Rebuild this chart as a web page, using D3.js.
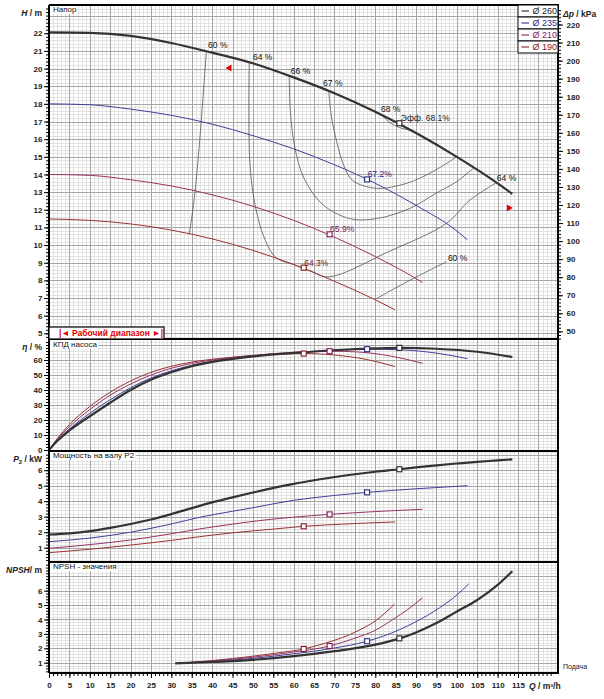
<!DOCTYPE html>
<html>
<head>
<meta charset="utf-8">
<script src="https://cdn.jsdelivr.net/npm/d3@7"></script>
<style>
  body { margin: 0; background: #fff; }
  text { font-family: "Liberation Sans", Arial, sans-serif; }
</style>
</head>
<body>
<div id="chart"></div>
<script>
// Pump curves, values, [Q m3/h, value]
var diameters = ["Ø 260", "Ø 235", "Ø 210", "Ø 190"];

var head260 = [[0,22.05],[10,22.02],[20,21.85],[30,21.45],[40,20.9],[50,20.3],[60,19.5],[70,18.6],[80,17.55],[90,16.35],[100,15.0],[110,13.5],[113.6,12.9]];
var head235 = [[0,18.0],[10,17.95],[20,17.7],[30,17.35],[40,16.85],[50,16.2],[60,15.45],[70,14.55],[80,13.5],[90,12.25],[100,10.8],[102.6,10.3]];
var head210 = [[0,14.0],[10,13.95],[20,13.7],[30,13.35],[40,12.85],[50,12.2],[60,11.4],[70,10.45],[80,9.35],[90,8.1],[91.6,7.87]];
var head190 = [[0,11.48],[10,11.4],[20,11.2],[30,10.85],[40,10.35],[50,9.7],[60,8.9],[70,7.95],[80,6.9],[84.85,6.33]];

var eff260 = [[0,0],[2,6],[5,13],[10,22.5],[15,31.5],[20,40],[25,46.8],[30,51.8],[35,55.8],[40,58.7],[50,62.4],[60,64.7],[70,66.5],[80,67.7],[86,68.1],[95,67.5],[105,65.5],[113.6,62]];
var eff235 = [[0,0],[2,6.5],[5,14],[10,24.5],[15,33.5],[20,41.5],[25,48],[30,52.8],[35,56.5],[40,59.2],[50,62.6],[60,64.9],[70,66.5],[78,67.2],[86,66.8],[95,64.6],[102.6,60.9]];
var eff210 = [[0,0],[2,7],[5,15.5],[10,27],[15,36.5],[20,44],[25,50],[30,54.5],[35,57.7],[40,60],[50,63.1],[60,65.1],[68.8,65.9],[76,65.3],[84,62.5],[91.6,57.8]];
var eff190 = [[0,0],[2,7.5],[5,17],[10,29],[15,38.5],[20,46],[25,51.8],[30,55.8],[35,58.6],[40,60.5],[50,62.9],[57,63.9],[62.45,64.3],[70,63.3],[78,60.3],[84.85,55.6]];

var pow260 = [[0,1.85],[5,1.93],[10,2.07],[15,2.28],[20,2.53],[25,2.82],[30,3.17],[35,3.55],[40,3.92],[45,4.25],[50,4.56],[55,4.86],[60,5.12],[65,5.35],[70,5.56],[75,5.74],[80,5.9],[86,6.06],[90,6.18],[95,6.31],[100,6.43],[105,6.54],[110,6.63],[113.6,6.7]];
var pow235 = [[0,1.39],[10,1.62],[20,2.0],[30,2.53],[36.9,2.96],[45,3.35],[50,3.58],[60,4.06],[70,4.37],[78,4.57],[90,4.8],[102.6,5.0]];
var pow210 = [[0,0.96],[10,1.2],[20,1.5],[30,1.9],[36.9,2.21],[45,2.52],[53,2.79],[60,2.97],[68.8,3.15],[80,3.33],[91.6,3.48]];
var pow190 = [[0,0.68],[10,0.9],[20,1.17],[30,1.47],[36.9,1.71],[45,1.96],[55,2.2],[62.45,2.38],[72,2.52],[84.85,2.66]];

var npsh260 = [[31,0.95],[40,1.05],[50,1.2],[60,1.45],[70,1.8],[80,2.25],[86,2.69],[90,3.1],[95,3.75],[100,4.55],[105,5.35],[110,6.4],[113.6,7.35]];
var npsh235 = [[31,0.95],[40,1.08],[50,1.3],[60,1.62],[70,2.02],[78,2.49],[86,3.3],[90,3.85],[95.7,4.8],[100,5.7],[102.9,6.47]];
var npsh210 = [[31,0.95],[40,1.12],[50,1.38],[60,1.74],[68.8,2.16],[75,2.7],[80,3.25],[84.3,4.0],[88,4.7],[91.6,5.51]];
var npsh190 = [[31,0.95],[40,1.15],[50,1.45],[56,1.68],[62.45,1.95],[68,2.38],[72,2.75],[76,3.25],[80,3.9],[84.7,5.06]];

// best efficiency points
var bepQ    = [85.9, 78, 68.8, 62.45];
var bepH    = [16.9, 13.72, 10.61, 8.72];
var bepEff  = [68.1, 67.2, 65.9, 64.3];
var bepPow  = [6.06, 4.57, 3.15, 2.38];
var bepNpsh = [2.69, 2.49, 2.16, 1.95];

// iso-efficiency lines [Q, H]
var iso60a = [[38.6,21.0],[37.8,18.5],[36.8,15.5],[35.6,12.6],[34.4,10.6]];
var iso60b = [[80,6.93],[88,7.95],[97.5,9.06]];
var iso64  = [[49.1,20.35],[49,17.5],[49.3,14.5],[50.5,12.3],[52.8,10.4],[55.7,9.28],[60,8.9],[64,8.55],[68.5,8.2],[83,9.6],[97.5,11.24],[103.2,12.55],[109.8,13.55]];
var iso66  = [[58.9,19.55],[59.2,17.5],[60.3,15.5],[62.5,13.8],[67.2,12.28],[73.8,11.5],[80.3,11.5],[88.5,12.08],[95,12.95],[100,13.6],[104,14.35]];
var iso67  = [[68.6,18.68],[69.3,17.2],[70.6,15.8],[72.3,14.5],[74.5,13.65],[80.3,13.22],[87.7,13.5],[94,14.15],[100,15.0]];
var iso68  = [[81.4,17.4],[83.5,16.95],[86,16.65],[88.5,16.5],[90.8,16.25]];
var isoLines = [iso60a, iso60b, iso64, iso66, iso67, iso68];
var isoLabels = [[39,21.34,"60 %"],[50,20.66,"64 %"],[59.3,19.86,"66 %"],[67.2,19.18,"67 %"],[81.4,17.72,"68 %"],[109.8,13.8,"64 %"],[97.8,9.27,"60 %"]];

// working range on the Ø 260 curve
var workQ = [44, 113.6];

var xTicks = d3.range(0, 120, 5);

var colors = ["#333333", "#40409a", "#993366", "#993333"];
var textColors = ["#222222", "#2a2a88", "#86185a", "#861818"];

// layout
var svgWidth = 604, svgHeight = 699;
var xL = 49, xR = 558;
var x = d3.scaleLinear().domain([0, 124.8]).range([xL, xR]);

var yH   = d3.scaleLinear().domain([4.68, 23.6]).range([339, 5]);
var yDp  = d3.scaleLinear().domain([4.68 * 9.78, 23.6 * 9.78]).range([339, 5]);
var yEff = d3.scaleLinear().domain([-0.33, 74]).range([450.5, 339]);
var yPow = d3.scaleLinear().domain([0.097, 7.27]).range([561.7, 450.5]);
var yNp  = d3.scaleLinear().domain([0.264, 8.01]).range([673.3, 561.7]);

var panels = [
  {y: yH,   top: 5,     bottom: 339,   minor: 0.2, major: 1},
  {y: yEff, top: 339,   bottom: 450.5, minor: 2,   major: 10},
  {y: yPow, top: 450.5, bottom: 561.7, minor: 0.2, major: 1},
  {y: yNp,  top: 561.7, bottom: 673.3, minor: 0.2, major: 1}
];

var svg = d3.select("#chart").append("svg")
  .attr("width", svgWidth)
  .attr("height", svgHeight);

function px(v) { return Math.round(v) + 0.5; }

// grid
panels.forEach(function(p) {
  var g = svg.append("g").attr("shape-rendering", "crispEdges");
  var dom = p.y.domain();
  var hMinor = d3.range(Math.ceil(dom[0] / p.minor) * p.minor, dom[1], p.minor)
    .filter(function(v) { return Math.abs(v / p.major - Math.round(v / p.major)) > 1e-6; });
  var hMajor = d3.range(Math.ceil(dom[0] / p.major) * p.major, dom[1], p.major);
  var vMinor = d3.range(1, 125, 1).filter(function(v) { return v % 5 != 0; });
  var vMajor = d3.range(5, 125, 5);

  g.selectAll(null).data(hMinor).enter().append("line")
    .attr("x1", xL).attr("x2", xR)
    .attr("y1", function(d) { return px(p.y(d)); })
    .attr("y2", function(d) { return px(p.y(d)); })
    .attr("stroke", "#e2e2e2");
  g.selectAll(null).data(vMinor).enter().append("line")
    .attr("y1", p.top).attr("y2", p.bottom)
    .attr("x1", function(d) { return px(x(d)); })
    .attr("x2", function(d) { return px(x(d)); })
    .attr("stroke", "#e2e2e2");
  g.selectAll(null).data(hMajor).enter().append("line")
    .attr("x1", xL).attr("x2", xR)
    .attr("y1", function(d) { return px(p.y(d)); })
    .attr("y2", function(d) { return px(p.y(d)); })
    .attr("stroke", "#a6a6a6");
  g.selectAll(null).data(vMajor).enter().append("line")
    .attr("y1", p.top).attr("y2", p.bottom)
    .attr("x1", function(d) { return px(x(d)); })
    .attr("x2", function(d) { return px(x(d)); })
    .attr("stroke", "#a6a6a6");
});

// iso efficiency lines
var isoLine = d3.line().x(function(d) { return x(d[0]); }).y(function(d) { return yH(d[1]); })
  .curve(d3.curveCatmullRom);
isoLines.forEach(function(l) {
  svg.append("path").datum(l).attr("d", isoLine)
    .attr("fill", "none").attr("stroke", "#555").attr("stroke-width", 0.8);
});
svg.selectAll(null).data(isoLabels).enter().append("text")
  .attr("x", function(d) { return x(d[0]); })
  .attr("y", function(d) { return yH(d[1]); })
  .attr("dy", "0.35em")
  .attr("font-size", 8.5)
  .attr("fill", "#111")
  .text(function(d) { return d[2]; });

// performance curves
function drawSet(sets, yScale) {
  var line = d3.line().x(function(d) { return x(d[0]); }).y(function(d) { return yScale(d[1]); })
    .curve(d3.curveMonotoneX);
  // smallest first so the big impeller sits on top
  for (var i = sets.length - 1; i >= 0; i--) {
    svg.append("path").datum(sets[i]).attr("d", line)
      .attr("fill", "none")
      .attr("stroke", colors[i])
      .attr("stroke-width", i == 0 ? 2.2 : 1);
  }
}
drawSet([head260, head235, head210, head190], yH);
drawSet([eff260, eff235, eff210, eff190], yEff);
drawSet([pow260, pow235, pow210, pow190], yPow);
drawSet([npsh260, npsh235, npsh210, npsh190], yNp);

// BEP markers
function markers(vals, yScale) {
  svg.selectAll(null).data(vals).enter().append("rect")
    .attr("x", function(d, i) { return x(bepQ[i]) - 2.5; })
    .attr("y", function(d) { return yScale(d) - 2.5; })
    .attr("width", 5).attr("height", 5)
    .attr("fill", "#fff")
    .attr("stroke", function(d, i) { return i == 0 ? "#222" : textColors[i]; })
    .attr("stroke-width", 1.1);
}
markers(bepH, yH);
markers(bepEff, yEff);
markers(bepPow, yPow);
markers(bepNpsh, yNp);

svg.selectAll(null).data(bepEff).enter().append("text")
  .attr("x", function(d, i) { return x(bepQ[i]) + (i == 0 ? 1.5 : 0.5); })
  .attr("y", function(d, i) { return yH(bepH[i]) - 5; })
  .attr("dy", "0.35em")
  .attr("font-size", 8.5)
  .attr("fill", function(d, i) { return textColors[i]; })
  .text(function(d, i) { return (i == 0 ? "Эфф.  " : "") + d.toFixed(1) + "%"; });

// working range triangles on the Ø 260 curve
var headAt = d3.scaleLinear().domain(head260.map(function(d) { return d[0]; })).range(head260.map(function(d) { return d[1]; }));
svg.append("path")
  .attr("d", "M" + (x(workQ[0]) - 3) + "," + (yH(headAt(workQ[0])) + 11) + " l6,-3.5 l0,7 z")
  .attr("fill", "#e00000");
svg.append("path")
  .attr("d", "M" + (x(workQ[1]) + 0.5) + "," + (yH(headAt(workQ[1])) + 14) + " l-6,-3.5 l0,7 z")
  .attr("fill", "#e00000");

// panel borders
var border = svg.append("g").attr("stroke", "#000").attr("shape-rendering", "crispEdges");
[5, 339, 450.5, 561.7, 673.3].forEach(function(yy) {
  border.append("line").attr("x1", xL).attr("x2", xR + 1).attr("y1", Math.round(yy)).attr("y2", Math.round(yy)).attr("stroke-width", 1.5);
});
border.append("line").attr("x1", xL).attr("x2", xL).attr("y1", 5).attr("y2", 673).attr("stroke-width", 1.2);
border.append("line").attr("x1", xR).attr("x2", xR).attr("y1", 5).attr("y2", 673).attr("stroke-width", 1.2);

// axes
function styleAxis(g) {
  g.select(".domain").remove();
  g.selectAll("line").attr("stroke", "#000");
  g.selectAll("text").attr("font-size", 8).attr("font-weight", "bold").attr("fill", "#222")
    .attr("font-family", "'Liberation Sans', Arial, sans-serif");
}
function leftAxis(scale, minorVals, majorVals) {
  svg.append("g").attr("transform", "translate(" + xL + ",0)")
    .call(d3.axisLeft(scale).tickValues(minorVals).tickSize(3).tickFormat(""))
    .call(styleAxis);
  svg.append("g").attr("transform", "translate(" + xL + ",0)")
    .call(d3.axisLeft(scale).tickValues(majorVals).tickSize(5).tickPadding(1.5).tickFormat(d3.format("d")))
    .call(styleAxis);
}
leftAxis(yH, d3.range(4.8, 23.6, 0.2), d3.range(5, 23, 1));
leftAxis(yEff, d3.range(0, 74, 2), d3.range(0, 70, 10));
leftAxis(yPow, d3.range(0.2, 7.2, 0.2), d3.range(1, 7, 1));
leftAxis(yNp, d3.range(0.4, 8, 0.2), d3.range(1, 7, 1));

svg.append("g").attr("transform", "translate(" + xR + ",0)")
  .call(d3.axisRight(yDp).tickValues(d3.range(46, 230, 2)).tickSize(3).tickFormat(""))
  .call(styleAxis);
svg.append("g").attr("transform", "translate(" + xR + ",0)")
  .call(d3.axisRight(yDp).tickValues(d3.range(50, 230, 10)).tickSize(5).tickPadding(3.5).tickFormat(d3.format("d")))
  .call(styleAxis);

svg.append("g").attr("transform", "translate(0,673)")
  .call(d3.axisBottom(x).tickValues(d3.range(0, 124, 1)).tickSize(3).tickFormat(""))
  .call(styleAxis);
svg.append("g").attr("transform", "translate(0,673)")
  .call(d3.axisBottom(x).tickValues(xTicks).tickSize(5).tickPadding(4).tickFormat(d3.format("d")))
  .call(styleAxis);

// axis titles
function axisTitle(xx, yy, sym, unit, anchor) {
  var t = svg.append("text").attr("x", xx).attr("y", yy).attr("dy", "0.35em")
    .attr("text-anchor", anchor).attr("font-size", 8.5).attr("font-weight", "bold").attr("fill", "#222");
  t.append("tspan").attr("font-style", "italic").text(sym);
  t.append("tspan").text(unit);
  return t;
}
axisTitle(42, 13, "H", " / m", "end");
axisTitle(42, 347, "η", " / %", "end");
var pt = svg.append("text").attr("x", 42).attr("y", 459).attr("dy", "0.35em")
  .attr("text-anchor", "end").attr("font-size", 8.5).attr("font-weight", "bold").attr("fill", "#222");
pt.append("tspan").attr("font-style", "italic").text("P");
pt.append("tspan").attr("font-size", 6).attr("dy", "2").text("2");
pt.append("tspan").attr("dy", "-2").text(" / kW");
axisTitle(42, 570, "NPSH", "/ m", "end");
axisTitle(563, 14, "Δp", " / kPa", "start");

var qt = svg.append("text").attr("x", 529).attr("y", 686).attr("dy", "0.35em")
  .attr("font-size", 8.5).attr("font-weight", "bold").attr("fill", "#222");
qt.append("tspan").attr("font-style", "italic").text("Q");
qt.append("tspan").text(" / m³/h");
svg.append("text").attr("x", 563).attr("y", 667).attr("dy", "0.35em")
  .attr("font-size", 7).attr("fill", "#222").text("Подача");

// panel titles
[["Напор", 9], ["КПД насоса", 344], ["Мощность на валу P2", 455.5], ["NPSH - значения", 566.5]].forEach(function(t) {
  var txt = svg.append("text").attr("x", 53).attr("y", t[1]).attr("dy", "0.35em")
    .attr("font-size", 8).attr("fill", "#111").text(t[0]);
  var bb = txt.node().getBBox();
  svg.insert("rect", "text").attr("x", 50).attr("y", bb.y).attr("width", bb.width + 4).attr("height", bb.height)
    .attr("fill", "#fff");
});

// working range legend box
svg.append("rect").attr("x", xL).attr("y", 327).attr("width", 115).attr("height", 12)
  .attr("fill", "#fff").attr("stroke", "#000").attr("stroke-width", 1.2);
svg.append("text").attr("x", 111).attr("y", 333).attr("dy", "0.35em").attr("text-anchor", "middle")
  .attr("font-size", 8.5).attr("font-weight", "bold").attr("fill", "#e00000")
  .text("|◄ Рабочий диапазон ►|");

// legend
var legend = svg.append("g").attr("transform", "translate(518,5)");
diameters.forEach(function(d, i) {
  var row = legend.append("g").attr("transform", "translate(0," + (i * 12) + ")");
  row.append("rect").attr("width", 40).attr("height", 12).attr("fill", "#fff").attr("stroke", "#000").attr("stroke-width", 1);
  row.append("line").attr("x1", 3.5).attr("x2", 11).attr("y1", 6).attr("y2", 6)
    .attr("stroke", colors[i]).attr("stroke-width", 1.2);
  row.append("text").attr("x", 14.5).attr("y", 6).attr("dy", "0.35em")
    .attr("font-size", 9).attr("fill", textColors[i]).text(d);
});
</script>
</body>
</html>
